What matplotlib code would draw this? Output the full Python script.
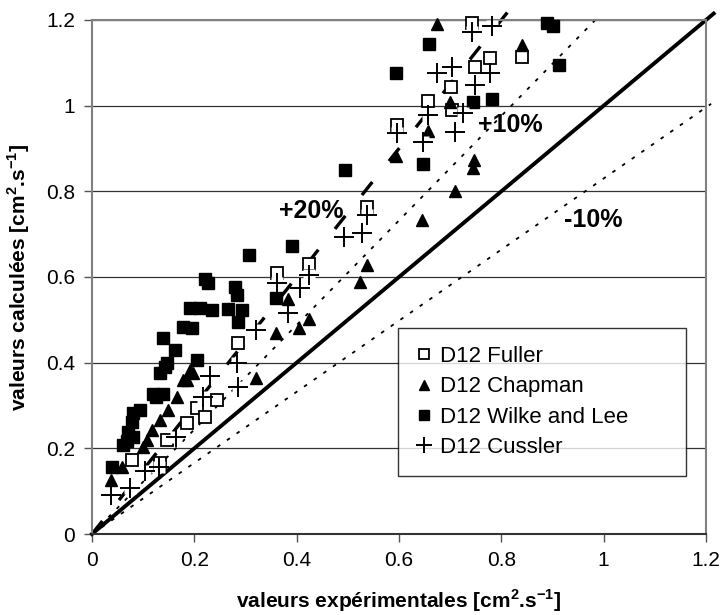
import matplotlib
matplotlib.use('Agg')
import matplotlib.pyplot as plt
from matplotlib.ticker import FuncFormatter, MultipleLocator

plt.rcParams['font.family'] = ['Liberation Sans', 'DejaVu Sans']
plt.rcParams['mathtext.fontset'] = 'custom'
plt.rcParams['mathtext.rm'] = 'Liberation Sans'
plt.rcParams['mathtext.bf'] = 'Liberation Sans:bold'

# D12 Fuller (carrés blancs)
fuller_x = [0.742, 0.841, 0.749, 0.778, 0.702, 0.657, 0.703, 0.597, 0.538, 0.361,
            0.425, 0.286, 0.244, 0.205, 0.221, 0.185, 0.146, 0.133, 0.078]
fuller_y = [1.192, 1.114, 1.091, 1.111, 1.044, 1.011, 0.990, 0.955, 0.763, 0.610,
            0.630, 0.445, 0.313, 0.293, 0.274, 0.258, 0.219, 0.165, 0.173]

# D12 Chapman (triangles)
chapman_x = [0.675, 0.841, 0.700, 0.657, 0.747, 0.745, 0.709, 0.594, 0.645, 0.537,
             0.524, 0.425, 0.405, 0.384, 0.360, 0.320, 0.198, 0.185, 0.192, 0.178,
             0.166, 0.149, 0.133, 0.117, 0.107, 0.100, 0.038, 0.058]
chapman_y = [1.190, 1.142, 1.009, 0.941, 0.873, 0.854, 0.800, 0.883, 0.732, 0.628,
             0.589, 0.501, 0.480, 0.548, 0.469, 0.364, 0.375, 0.360, 0.383, 0.360,
             0.321, 0.290, 0.266, 0.243, 0.219, 0.204, 0.126, 0.157]

# D12 Wilke and Lee (carrés noirs)
wilke_x = [0.659, 0.889, 0.901, 0.913, 0.781, 0.745, 0.647, 0.494, 0.595, 0.390,
           0.306, 0.221, 0.360, 0.279, 0.283, 0.266, 0.293, 0.286, 0.192, 0.211,
           0.234, 0.178, 0.195, 0.139, 0.162, 0.205, 0.146, 0.133, 0.143, 0.120,
           0.139, 0.126, 0.081, 0.094, 0.078, 0.071, 0.068, 0.061, 0.081, 0.040,
           0.227]
wilke_y = [1.143, 1.192, 1.187, 1.095, 1.016, 1.009, 0.863, 0.850, 1.076, 0.672,
           0.651, 0.595, 0.550, 0.577, 0.558, 0.525, 0.523, 0.496, 0.527, 0.527,
           0.523, 0.484, 0.480, 0.457, 0.430, 0.406, 0.399, 0.375, 0.390, 0.328,
           0.328, 0.321, 0.282, 0.290, 0.262, 0.239, 0.216, 0.208, 0.227, 0.157,
           0.585]

# D12 Cussler (croix)
cussler_x = [0.742, 0.781, 0.674, 0.703, 0.778, 0.749, 0.657, 0.726, 0.709, 0.647,
             0.597, 0.538, 0.492, 0.527, 0.425, 0.361, 0.406, 0.384, 0.320, 0.283,
             0.286, 0.231, 0.217, 0.164, 0.104, 0.074, 0.038, 0.130]
cussler_y = [1.173, 1.185, 1.076, 1.091, 1.076, 1.048, 0.978, 0.982, 0.939, 0.916,
             0.936, 0.745, 0.694, 0.702, 0.605, 0.585, 0.575, 0.517, 0.476, 0.400,
             0.344, 0.370, 0.319, 0.227, 0.148, 0.108, 0.091, 0.157]

# droites de référence : pente et abscisse de fin
ref_slopes = [1.0, 1.5, 1.22, 0.83]
ref_x_end = [1.215, 0.813, 0.99, 1.21]

fig = plt.figure(figsize=(7.21, 6.15), dpi=100)
ax = fig.add_axes([0.1276, 0.1317, 0.8516, 0.8358])

styles = [dict(color='black', lw=2.8, ls='-'),
          dict(color='black', lw=2.4, ls=(0, (5, 8))),
          dict(color='black', lw=1.3, ls=(0, (2, 4.5))),
          dict(color='black', lw=1.3, ls=(0, (2, 4.5)))]
for s, xe, st in zip(ref_slopes, ref_x_end, styles):
    ax.plot([0, xe], [0, s * xe], clip_on=False, zorder=2, **st)

ax.plot(fuller_x, fuller_y, 's', ms=8, mfc='white', mec='black', mew=1.3,
        ls='none', label='D12 Fuller', zorder=3, clip_on=False)
ax.plot(chapman_x, chapman_y, '^', ms=9, color='black',
        ls='none', label='D12 Chapman', zorder=3, clip_on=False)
ax.plot(wilke_x, wilke_y, 's', ms=8, color='black',
        ls='none', label='D12 Wilke and Lee', zorder=3, clip_on=False)
# fond blanc sous les croix (comme dans Excel)
ax.plot(cussler_x, cussler_y, 's', ms=8, mfc='white', mec='none',
        ls='none', zorder=3.5, clip_on=False)
ax.plot(cussler_x, cussler_y, '+', ms=14, mew=1.4, color='black',
        ls='none', label='D12 Cussler', zorder=4, clip_on=False)

ax.text(0.428, 0.754, '+20%', fontsize=18, fontweight='bold', ha='center', va='center')
ax.text(0.817, 0.955, '+10%', fontsize=18, fontweight='bold', ha='center', va='center')
ax.text(0.979, 0.733, '-10%', fontsize=18, fontweight='bold', ha='center', va='center')

ax.set_xlim(0, 1.2)
ax.set_ylim(0, 1.2)
ax.xaxis.set_major_locator(MultipleLocator(0.2))
ax.yaxis.set_major_locator(MultipleLocator(0.2))
fmt = FuncFormatter(lambda v, p: '%g' % round(v, 2))
ax.xaxis.set_major_formatter(fmt)
ax.yaxis.set_major_formatter(fmt)
ax.tick_params(direction='out', length=6, width=1, labelsize=15, color='#555555', pad=6)

ax.grid(axis='y', color='#333333', lw=0.9)
ax.set_axisbelow(True)
for side in ['left', 'bottom', 'right', 'top']:
    ax.spines[side].set_color('#808080')
    ax.spines[side].set_linewidth(1.5)
ax.spines['bottom'].set_color('#333333')

ax.set_xlabel(r'valeurs expérimentales [cm$^\mathbf{2}$.s$^\mathbf{-1}$]',
              fontsize=15, fontweight='bold', labelpad=13)
ax.set_ylabel(r'valeurs calculées [cm$^\mathbf{2}$.s$^\mathbf{-1}$]',
              fontsize=15, fontweight='bold', labelpad=10)

leg = ax.legend(loc='lower left', bbox_to_anchor=(0.498, 0.113, 0.469, 0.288),
                mode='expand', borderaxespad=0, fontsize=16, frameon=True,
                fancybox=False, edgecolor='black', handlelength=0.75,
                handletextpad=0.35, labelspacing=0.42, borderpad=0.8,
                markerscale=0.85)
leg.get_frame().set_linewidth(1.0)

plt.savefig('out.png', dpi=100)
